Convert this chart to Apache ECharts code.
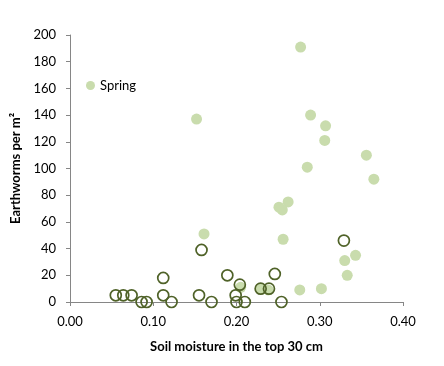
<!DOCTYPE html>
<html>
<head>
<meta charset="utf-8">
<script src="https://cdn.jsdelivr.net/npm/echarts@6/dist/echarts.min.js"></script>
<style>html,body{margin:0;padding:0;background:#fff}#c{width:444px;height:366px}</style>
</head>
<body>
<div id="c"></div>
<script>
const springX = [0.277,0.152,0.289,0.307,0.306,0.356,0.365,0.285,0.161,0.262,0.251,0.255,0.256,0.330,0.343,0.333,0.276,0.302,0.205,0.229,0.238];
const springY = [191,137,140,132,121,110,92,101,51,75,71,69,47,31,35,20,9,10,11,10,9];
const otherX = [0.055,0.064,0.074,0.086,0.092,0.112,0.112,0.122,0.158,0.155,0.170,0.189,0.204,0.199,0.200,0.210,0.229,0.239,0.246,0.254,0.329];
const otherY = [5,5,5,0,0,18,5,0,39,5,0,20,13,5,0,0,10,10,21,0,46];
const xTicks = [0, 0.1, 0.2, 0.3, 0.4];
const yTicks = [0, 20, 40, 60, 80, 100, 120, 140, 160, 180, 200];
const seriesNames = ['Spring', 'Other'];

const font = 'Lato, "Open Sans", sans-serif';
const chart = echarts.init(document.getElementById('c'));
chart.setOption({
  animation: false,
  backgroundColor: '#fff',
  textStyle: { fontFamily: font },
  grid: { left: 70, right: 41, top: 35, bottom: 64 },
  legend: {
    data: [seriesNames[0]],
    left: 81, top: 74,
    icon: 'circle', itemWidth: 9, itemHeight: 9, itemGap: 4,
    textStyle: { fontSize: 13, color: '#000', fontFamily: font }
  },
  xAxis: {
    type: 'value', min: xTicks[0], max: xTicks[xTicks.length - 1], interval: 0.1,
    name: 'Soil moisture in the top 30 cm', nameLocation: 'middle', nameGap: 38,
    nameTextStyle: { fontSize: 13, fontWeight: 'bold', color: '#000', fontFamily: font },
    axisLine: { show: true, lineStyle: { color: '#868686', width: 1 } },
    axisTick: { show: true, length: 4, lineStyle: { color: '#868686' } },
    axisLabel: { fontSize: 13, color: '#000', margin: 13, formatter: v => v.toFixed(2) },
    splitLine: { show: false }
  },
  yAxis: {
    type: 'value', min: yTicks[0], max: yTicks[yTicks.length - 1], interval: 20,
    name: 'Earthworms per m\u00b2', nameLocation: 'middle', nameGap: 45,
    nameTextStyle: { fontSize: 13, fontWeight: 'bold', color: '#000', fontFamily: font },
    axisLine: { show: true, lineStyle: { color: '#868686', width: 1 } },
    axisTick: { show: true, length: 4, lineStyle: { color: '#868686' } },
    axisLabel: { fontSize: 13, color: '#000', margin: 14 },
    splitLine: { show: false }
  },
  series: [
    {
      name: seriesNames[0], type: 'scatter', symbol: 'circle', symbolSize: 11,
      itemStyle: { color: '#c9dcad', opacity: 1 },
      data: springX.map((x, i) => [x, springY[i]])
    },
    {
      name: seriesNames[1], type: 'scatter', symbol: 'circle', symbolSize: 11,
      itemStyle: { color: 'rgba(0,0,0,0)', borderColor: '#4f6228', borderWidth: 1.7, opacity: 1 },
      data: otherX.map((x, i) => [x, otherY[i]])
    }
  ]
});
</script>
</body>
</html>
